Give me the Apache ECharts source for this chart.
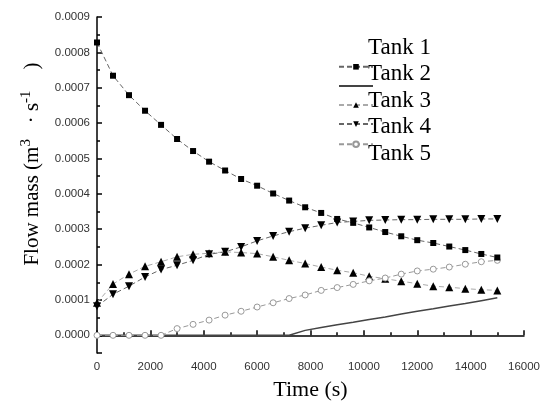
<!DOCTYPE html>
<html>
<head>
<meta charset="utf-8">
<script src="https://cdn.jsdelivr.net/npm/echarts@6/dist/echarts.min.js"></script>
<style>
html,body{margin:0;padding:0;background:#fff;}
#chart{width:545px;height:403px;}
</style>
</head>
<body>
<div id="chart"></div>
<script>
var times = [0, 600, 1200, 1800, 2400, 3000, 3600, 4200, 4800, 5400, 6000, 6600, 7200, 7800, 8400, 9000, 9600, 10200, 10800, 11400, 12000, 12600, 13200, 13800, 14400, 15000];
var tank1 = [0.000828, 0.000734, 0.000679, 0.000635, 0.000595, 0.000555, 0.000521, 0.000491, 0.000466, 0.000442, 0.000423, 0.000401, 0.000381, 0.000362, 0.000346, 0.000329, 0.000318, 0.000305, 0.000292, 0.000280, 0.000269, 0.000261, 0.000251, 0.000241, 0.000230, 0.000220];
var tank2 = [0, 0, 0, 0, 0, 0, 0, 0, 0, 0, 0, 0, 0, 0.000014, 0.000022, 0.000030, 0.000037, 0.000045, 0.000052, 0.000060, 0.000068, 0.000075, 0.000083, 0.000090, 0.000098, 0.000106];
var tank3 = [0.000092, 0.000145, 0.000173, 0.000195, 0.000208, 0.000222, 0.000229, 0.000232, 0.000236, 0.000234, 0.000231, 0.000222, 0.000212, 0.000203, 0.000193, 0.000184, 0.000177, 0.000167, 0.000160, 0.000153, 0.000146, 0.000139, 0.000136, 0.000132, 0.000129, 0.000127];
var tank4 = [0.000082, 0.000116, 0.000139, 0.000165, 0.000186, 0.000198, 0.000212, 0.000229, 0.000236, 0.000250, 0.000267, 0.000281, 0.000293, 0.000303, 0.000311, 0.000319, 0.000322, 0.000325, 0.000326, 0.000327, 0.000327, 0.000328, 0.000328, 0.000328, 0.000329, 0.000329];
var tank5 = [0, 0, 0, 0, 0, 0.000019, 0.000031, 0.000043, 0.000057, 0.000068, 0.000080, 0.000092, 0.000104, 0.000114, 0.000127, 0.000135, 0.000144, 0.000154, 0.000162, 0.000173, 0.000182, 0.000187, 0.000193, 0.000201, 0.000208, 0.000212];
var names = ['Tank 1', 'Tank 2', 'Tank 3', 'Tank 4', 'Tank 5'];

function pairs(vals) { return times.map(function (t, i) { return [t, vals[i]]; }); }

var chart = echarts.init(document.getElementById('chart'), null, {renderer: 'canvas'});
var dash = [5, 3];
var iconLegendData = names.map(function (n) {
  return n === 'Tank 2' ? {name: n, itemStyle: {opacity: 0}} : {name: n};
});
var option = {
  animation: false,
  backgroundColor: '#fff',
  grid: {left: 97, right: 21, top: 17, bottom: 50, outerBoundsMode: 'none', containLabel: false},
  legend: [
    {
      data: names, orient: 'vertical', left: 329, top: 31,
      itemWidth: 34, itemHeight: 14, itemGap: 3.5,
      itemStyle: {opacity: 0}, lineStyle: {opacity: 0},
      textStyle: {fontFamily: 'Liberation Serif', fontSize: 23, lineHeight: 23, color: '#000', padding: [0, 0, 0, -6]}
    },
    {
      data: iconLegendData, orient: 'vertical', left: 333, top: 59,
      itemWidth: 34, itemHeight: 7, itemGap: 13.5,
      formatter: function () { return ''; },
      textStyle: {fontSize: 6, lineHeight: 6}
    }
  ],
  xAxis: {
    type: 'value', min: 0, max: 16000, interval: 2000,
    name: 'Time (s)', nameLocation: 'middle', nameGap: 26,
    nameTextStyle: {fontFamily: 'Liberation Serif', fontSize: 22, color: '#000'},
    axisLine: {lineStyle: {color: '#000', width: 1.5}},
    axisTick: {inside: true, length: 5, lineStyle: {color: '#000', width: 1.5}},
    minorTick: {show: true, splitNumber: 2, length: 3, lineStyle: {color: '#000', width: 1.5}},
    splitLine: {show: false},
    axisLabel: {fontFamily: 'Liberation Sans', fontSize: 11.5, color: '#333', margin: 8,
      formatter: function (v) { return String(Math.round(v)); }}
  },
  yAxis: {
    type: 'value', min: -0.00005, max: 0.0009, minInterval: 0.0001, maxInterval: 0.0001, splitNumber: 9,
    name: 'Flow mass (m{sup|3}   · s{sup|-1}    )', nameLocation: 'middle', nameGap: 52, nameRotate: 90,
    nameTextStyle: {fontFamily: 'Liberation Serif', fontSize: 21, color: '#000', padding: [0, 0, 0, 42],
      rich: {sup: {fontFamily: 'Liberation Serif', fontSize: 15, color: '#000', padding: [0, 0, 11, 0]}}},
    axisLine: {lineStyle: {color: '#000', width: 1.5}},
    axisTick: {inside: true, length: 5, lineStyle: {color: '#000', width: 1.5}},
    minorTick: {show: true, splitNumber: 2, length: 3, lineStyle: {color: '#000', width: 1.5}},
    splitLine: {show: false},
    axisLabel: {fontFamily: 'Liberation Sans', fontSize: 11.5, color: '#333', margin: 7,
      formatter: function (v) { return v < -1e-9 ? '' : v.toFixed(4); }}
  },
  series: [
    {name: 'Tank 1', type: 'line', data: pairs(tank1), symbol: 'rect', symbolSize: 6, z: 5,
      itemStyle: {color: '#000'}, lineStyle: {color: '#666', width: 1, type: dash}},
    {name: 'Tank 2', type: 'line', data: pairs(tank2), symbol: 'none', z: 2,
      itemStyle: {color: '#444'}, lineStyle: {color: '#444', width: 1.5}},
    {name: 'Tank 3', type: 'line', data: pairs(tank3), symbol: 'triangle', symbolSize: 8, z: 3,
      itemStyle: {color: '#000'}, lineStyle: {color: '#aaa', width: 1, type: dash}},
    {name: 'Tank 4', type: 'line', data: pairs(tank4), symbol: 'triangle', symbolRotate: 180, symbolSize: 8, z: 4,
      itemStyle: {color: '#000'}, lineStyle: {color: '#666', width: 1, type: dash}},
    {name: 'Tank 5', type: 'line', data: pairs(tank5), symbol: 'circle', symbolSize: 6, z: 3,
      itemStyle: {color: '#fff', borderColor: '#999', borderWidth: 1}, lineStyle: {color: '#999', width: 1, type: dash}}
  ]
};
chart.setOption(option);
</script>
</body>
</html>
